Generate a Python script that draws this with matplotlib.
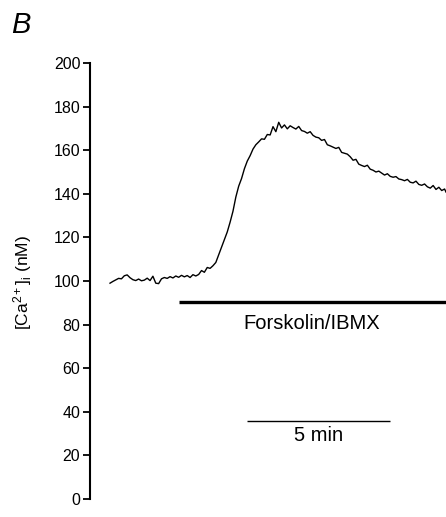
import matplotlib
matplotlib.use("Agg")
import matplotlib.pyplot as plt

plt.rcParams['font.family'] = ['Liberation Sans', 'DejaVu Sans']
plt.rcParams['mathtext.fontset'] = 'custom'
plt.rcParams['mathtext.rm'] = 'Liberation Sans'
plt.rcParams['mathtext.it'] = 'Liberation Sans:italic'

# trace, time in min, [Ca2+]i in nM
time_min = [i / 10 for i in range(118)] + [11.75]
ca_nm = [
    99.0, 99.8, 100.5, 101.2, 101.0, 102.4, 102.8, 101.5, 100.6, 100.2,
    100.9, 100.1, 100.4, 101.3, 100.2, 102.2, 99.0, 98.8, 101.0, 101.6,
    101.2, 102.0, 101.4, 102.3, 101.7, 102.6, 101.9, 102.5, 101.6, 102.9,
    102.3, 103.0, 104.8, 104.0, 106.2, 105.8, 107.0, 108.5, 112.0, 115.5,
    119.0, 122.5, 127.0, 132.0, 138.5, 143.5, 147.0, 151.5, 155.0, 157.5,
    160.5, 162.5, 163.8, 165.2, 165.0, 167.2, 167.0, 170.8, 168.5, 172.8,
    170.2, 171.6, 169.8, 171.2, 170.4, 169.7, 170.9, 169.0, 168.6, 167.8,
    168.5, 166.8, 166.0, 165.7, 164.5, 164.9, 162.5, 162.0, 161.4, 160.8,
    161.3, 159.0, 158.6, 158.2, 157.0, 155.4, 155.8, 153.6, 153.0, 152.5,
    153.1, 151.3, 150.8, 150.0, 150.4, 149.5, 148.6, 149.2, 148.0, 147.6,
    147.9, 146.8, 146.5, 146.0, 146.6, 145.3, 145.0, 145.8, 144.3, 143.9,
    144.5, 143.2, 142.6, 143.8, 142.0, 143.0, 141.5, 142.2, 140.8,
]

drug_label = "Forskolin/IBMX"
drug_start, drug_end = 2.41, 11.75
scale_start, scale_end = 4.8, 9.8
yticks = [0, 20, 40, 60, 80, 100, 120, 140, 160, 180, 200]

fig = plt.figure(figsize=(4.46, 5.17), dpi=100)
ax = fig.add_axes([90 / 446, 1 - 499 / 517, 356 / 446, 436 / 517])

ax.plot(time_min, ca_nm, color='black', lw=1.0, clip_on=False)

# drug application bar
ax.plot([drug_start, drug_end], [90.4, 90.4], color='black', lw=2.4,
        solid_capstyle='butt', clip_on=False)
ax.text(7.05, 80.5, drug_label, ha='center', va='center', fontsize=14.5)

# time scale bar
ax.plot([scale_start, scale_end], [36, 36], color='black', lw=1.0, solid_capstyle='butt')
ax.text(7.3, 29.0, "5 min", ha='center', va='center', fontsize=14.5)

ax.set_xlim(-0.70, 11.75)
ax.set_ylim(0, 200)
ax.set_yticks(yticks)
ax.tick_params(axis='y', direction='out', length=5, width=1.3, labelsize=11.5, pad=2)
ax.set_xticks([])
for s in ['top', 'right', 'bottom']:
    ax.spines[s].set_visible(False)
ax.spines['left'].set_linewidth(1.5)
ax.set_ylabel(r'[Ca$^{2+}$]$_\mathrm{i}$ (nM)', fontsize=12.5, labelpad=6)
ax.yaxis.set_label_coords(-56 / 356, (499 - 282) / 436)

fig.text(11 / 446, 1 - 25 / 517, "B", fontsize=21, style='italic', va='center', ha='left')

fig.savefig('out.png', dpi=100)
